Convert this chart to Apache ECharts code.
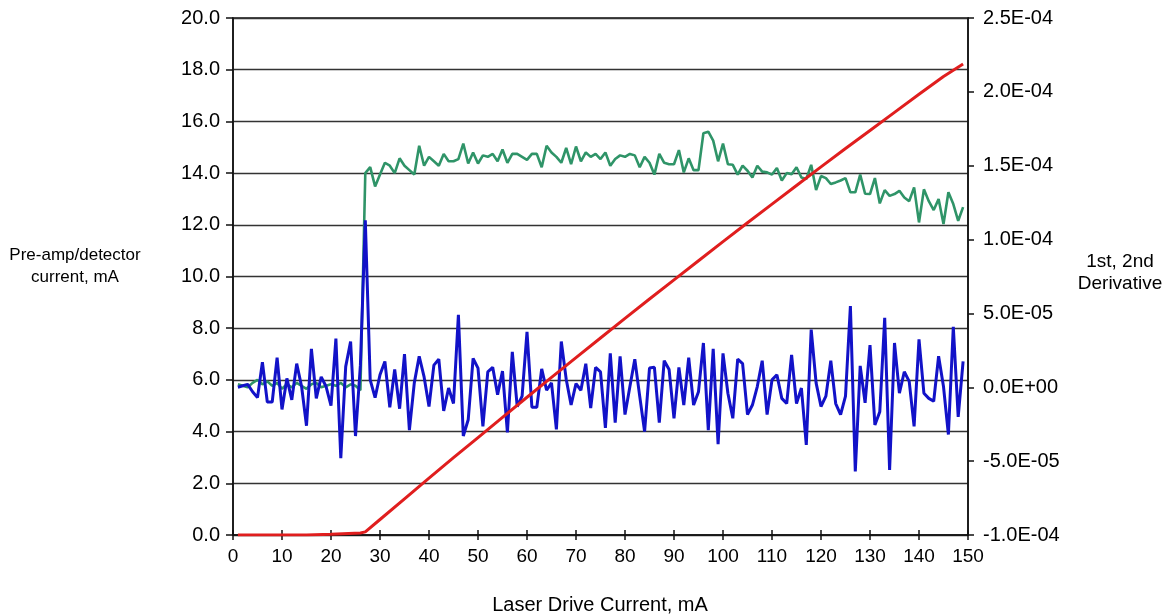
<!DOCTYPE html>
<html>
<head>
<meta charset="utf-8">
<script src="https://cdn.jsdelivr.net/npm/echarts@6/dist/echarts.min.js"></script>
<style>
html,body{margin:0;padding:0;background:#fff;}
#chart{width:1166px;height:615px;}
</style>
</head>
<body>
<div id="chart"></div>
<script>
// Laser drive current, mA (one sample per mA)
var driveCurrent = [1,2,3,4,5,6,7,8,9,10,11,12,13,14,15,16,17,18,19,20,21,22,23,24,25,26,27,28,29,30,31,32,33,34,35,36,37,38,39,40,41,42,43,44,45,46,47,48,49,50,51,52,53,54,55,56,57,58,59,60,61,62,63,64,65,66,67,68,69,70,71,72,73,74,75,76,77,78,79,80,81,82,83,84,85,86,87,88,89,90,91,92,93,94,95,96,97,98,99,100,101,102,103,104,105,106,107,108,109,110,111,112,113,114,115,116,117,118,119,120,121,122,123,124,125,126,127,128,129,130,131,132,133,134,135,136,137,138,139,140,141,142,143,144,145,146,147,148,149];

// 1st derivative, units of 1E-05 (green)
var firstDeriv = [0.2,0.1,0.0,0.3,0.5,0.2,0.4,0.1,0.3,-0.1,0.2,0.0,0.3,0.1,-0.1,0.2,0.3,0.0,0.1,0.2,0.1,0.3,0.0,0.2,0.1,-0.2,
14.5,14.9,13.6,14.4,15.2,15.0,14.5,15.5,15.0,14.7,14.4,16.35,15.0,15.6,15.3,15.0,15.8,15.3,15.3,15.45,16.5,15.15,15.9,15.15,
15.7,15.6,15.8,15.3,16.1,15.2,15.8,15.8,15.6,15.4,15.8,15.8,14.9,16.35,15.9,15.6,15.2,16.2,15.1,16.3,15.3,15.9,15.6,15.8,
15.45,15.9,15.0,15.45,15.7,15.6,15.8,15.7,14.9,15.6,15.2,14.4,15.8,15.2,15.1,15.1,16.06,14.55,15.5,14.7,14.7,17.2,17.3,16.7,
15.3,16.5,15.1,15.06,14.4,15.0,14.66,14.2,15.0,14.6,14.55,14.4,14.84,14.0,14.5,14.43,14.9,14.2,14.1,15.06,13.35,14.3,14.16,
13.76,13.87,14.0,14.16,13.2,13.2,14.4,13.1,13.08,14.16,12.45,13.35,12.96,13.08,13.3,12.85,12.6,13.53,11.16,13.4,12.6,12.0,
12.74,11.05,13.2,12.4,11.27,12.2];

// 2nd derivative, units of 1E-05 (blue)
var secondDeriv = [0.0,0.1,0.2,-0.3,-0.7,1.7,-1.0,-1.0,2.0,-1.5,0.6,-0.85,1.6,0.05,-2.6,2.6,-0.75,0.7,0.05,-1.25,3.3,-4.8,1.4,3.1,-3.3,1.5,
11.3,0.5,-0.7,0.85,1.75,-1.35,1.2,-1.45,2.25,-2.9,0.3,2.1,0.7,-1.3,1.5,1.9,-1.6,-0.05,-1.1,4.9,-3.3,-2.2,1.95,1.3,
-2.65,1.05,1.35,-0.5,1.1,-3.05,2.4,-1.3,-0.6,3.75,-1.35,-1.35,1.25,-0.2,0.3,-2.85,3.1,0.55,-1.2,0.25,-0.2,1.6,-1.4,1.35,
1.05,-2.75,2.3,-2.4,2.1,-1.85,0.05,1.9,-0.6,-3.0,1.3,1.35,-2.4,1.8,1.2,-2.1,1.35,-1.2,2.0,-1.2,-0.3,3.0,-2.9,2.6,-3.85,
2.3,-0.4,-2.1,1.9,1.6,-1.85,-1.2,0.05,1.8,-1.85,0.5,0.85,-0.75,-1.1,2.2,-1.1,-0.05,-3.9,3.9,0.3,-1.3,-0.6,1.8,-1.1,-1.85,
-0.6,5.5,-5.7,1.45,-1.05,2.85,-2.55,-1.65,4.7,-5.6,3.0,-0.4,1.05,0.4,-2.65,3.25,-0.4,-0.75,-0.95,2.1,0.05,-3.2,4.1,-2.0,1.75];

// Pre-amp/detector current, mA (red), read at these drive currents
var redDrive = [1,10,15,20,26,27,30,35,40,45,50,55,60,65,70,75,80,85,90,95,100,105,110,115,120,125,130,135,140,145,149];
var redCurrent = [0,0,0,0.03,0.08,0.12,0.6,1.4,2.2,2.99,3.77,4.55,5.33,6.1,6.86,7.62,8.38,9.13,9.87,10.61,11.35,12.08,12.8,13.52,14.24,14.95,15.65,16.35,17.05,17.74,18.22];

// axis settings
var xTicks = {min:0, max:150, interval:10};
var leftTicks = {min:0, max:20, interval:2};
var rightTicks = {min:-10, max:25, interval:5}; // units of 1E-05

function pairs(xs, ys){ return xs.map(function(x,i){ return [x, ys[i]]; }); }

function sciLabel(v){
  var val = v * 1e-5;
  var s = val.toExponential(1);
  var parts = s.split('e');
  var mant = parts[0];
  var exp = parseInt(parts[1],10);
  if (Math.abs(val) < 1e-12) { mant = '0.0'; exp = 0; }
  var sign = exp < 0 ? '-' : '+';
  var e = Math.abs(exp);
  return mant + 'E' + sign + (e < 10 ? '0' + e : '' + e);
}

var FONT = 'Liberation Sans, Arial, Helvetica, sans-serif';
var labelStyle = {color:'#000', fontFamily:FONT, fontSize:20};
var axisColor = '#111';

var chart = echarts.init(document.getElementById('chart'));
chart.setOption({
  animation:false,
  backgroundColor:'#fff',
  grid:{left:233, right:198, top:18, bottom:80, containLabel:false,
        show:true, borderColor:axisColor, borderWidth:1.5, backgroundColor:'transparent'},
  xAxis:[{
    type:'value', min:xTicks.min, max:xTicks.max, interval:xTicks.interval,
    axisLine:{show:true, onZero:false, lineStyle:{color:axisColor, width:1.5}},
    axisTick:{show:true, length:5, lineStyle:{color:axisColor, width:1.5}},
    axisLabel:Object.assign({margin:12}, labelStyle, {fontSize:19}),
    splitLine:{show:false}
  },{
    type:'value', min:xTicks.min, max:xTicks.max, interval:xTicks.interval, position:'bottom',
    axisLine:{show:false},
    axisTick:{show:true, inside:true, length:5, lineStyle:{color:axisColor, width:1.5}},
    axisLabel:{show:false}, splitLine:{show:false}
  }],
  yAxis:[{
    type:'value', position:'left', min:leftTicks.min, max:leftTicks.max, interval:leftTicks.interval,
    axisLine:{show:true, onZero:false, lineStyle:{color:axisColor, width:1.5}},
    axisTick:{show:true, length:7, lineStyle:{color:axisColor, width:1.5}},
    axisLabel:Object.assign({margin:13, formatter:function(v){return v.toFixed(1);}}, labelStyle),
    splitLine:{show:true, lineStyle:{color:'#333', width:1.4}}
  },{
    type:'value', position:'right', min:rightTicks.min, max:rightTicks.max, interval:rightTicks.interval,
    axisLine:{show:true, onZero:false, lineStyle:{color:axisColor, width:1.5}},
    axisTick:{show:true, length:6, lineStyle:{color:axisColor, width:1.5}},
    axisLabel:Object.assign({margin:15, formatter:sciLabel}, labelStyle),
    splitLine:{show:false}
  }],
  series:[{
    name:'1st Derivative', type:'line', xAxisIndex:0, yAxisIndex:1,
    data:pairs(driveCurrent, firstDeriv), showSymbol:false, symbol:'none',
    lineStyle:{color:'#2f9468', width:2.6}, z:2
  },{
    name:'2nd Derivative', type:'line', xAxisIndex:0, yAxisIndex:1,
    data:pairs(driveCurrent, secondDeriv), showSymbol:false, symbol:'none',
    lineStyle:{color:'#1212c8', width:3}, z:3
  },{
    name:'Pre-amp/detector current', type:'line', xAxisIndex:0, yAxisIndex:0,
    data:pairs(redDrive, redCurrent), showSymbol:false, symbol:'none',
    lineStyle:{color:'#e01e1e', width:3}, z:4
  }],
  graphic:[
    {type:'text', x:75, y:266, style:{text:'Pre-amp/detector\ncurrent, mA', fill:'#000', font:'17px '+FONT, textAlign:'center', textVerticalAlign:'middle', lineHeight:22}},
    {type:'text', x:1120, y:273, style:{text:'1st, 2nd\nDerivative', fill:'#000', font:'19px '+FONT, textAlign:'center', textVerticalAlign:'middle', lineHeight:22}},
    {type:'text', x:600, y:605, style:{text:'Laser Drive Current, mA', fill:'#000', font:'20px '+FONT, textAlign:'center', textVerticalAlign:'middle'}}
  ]
});
</script>
</body>
</html>
